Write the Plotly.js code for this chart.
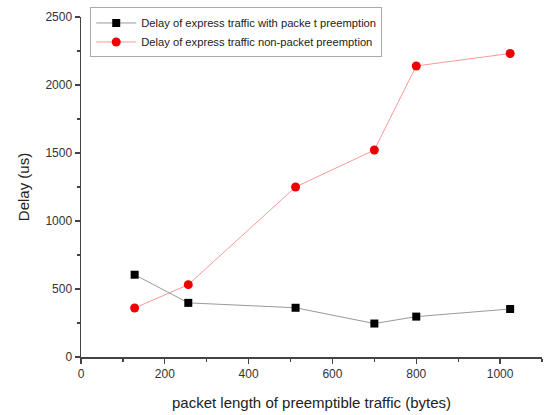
<!DOCTYPE html>
<html>
<head>
<meta charset="utf-8">
<script src="https://cdn.plot.ly/plotly-3.0.1.min.js"></script>
<style>html,body{margin:0;padding:0;background:#fff;}#chart{width:550px;height:415px;}</style>
</head>
<body>
<div id="chart"></div>
<script>
const packetLength = [128, 256, 512, 700, 800, 1024];
const delayWithPreemption = [605, 398, 362, 246, 297, 353];
const delayNonPreemption = [360, 532, 1250, 1522, 2140, 2232];
const seriesNames = ["Delay of express traffic with packe t preemption", "Delay of express traffic non-packet preemption"];

const traces = [
  {x: packetLength, y: delayWithPreemption, name: seriesNames[0], mode: 'lines+markers', type: 'scatter',
   line: {color: '#9a9a9a', width: 1}, marker: {symbol: 'square', color: '#000', size: 8}},
  {x: packetLength, y: delayNonPreemption, name: seriesNames[1], mode: 'lines+markers', type: 'scatter',
   line: {color: '#f59a9a', width: 1}, marker: {symbol: 'circle', color: '#ee0000', size: 9}}
];

const axisCommon = {
  showgrid: false, zeroline: false, showline: true, linecolor: '#444', linewidth: 1.5,
  ticks: 'outside', ticklen: 5, tickcolor: '#444', tickwidth: 1.2,
  tickfont: {family: 'Liberation Sans, Arial, sans-serif', size: 12, color: '#333'}
};

const layout = {
  width: 550, height: 415,
  margin: {l: 81, r: 8, t: 16, b: 58},
  paper_bgcolor: '#fff', plot_bgcolor: '#fff',
  showlegend: true,
  legend: {x: 0.02, y: 1.025, xanchor: 'left', yanchor: 'top', bgcolor: '#fff', bordercolor: '#aaa', borderwidth: 1,
           font: {family: 'Liberation Sans, Arial, sans-serif', size: 11.2, color: '#222'}, tracegroupgap: 0, itemwidth: 40},
  xaxis: Object.assign({}, axisCommon, {
    range: [0, 1100], dtick: 200, tick0: 0,
    minor: {dtick: 100, ticks: 'outside', ticklen: 3, tickcolor: '#444'},
    title: {text: 'packet length of preemptible traffic (bytes)', standoff: 17,
            font: {family: 'Liberation Sans, Arial, sans-serif', size: 15, color: '#222'}}
  }),
  yaxis: Object.assign({}, axisCommon, {
    range: [0, 2500], dtick: 500, tick0: 0,
    minor: {dtick: 250, ticks: 'outside', ticklen: 3, tickcolor: '#444'},
    title: {text: 'Delay (us)', standoff: 12,
            font: {family: 'Liberation Sans, Arial, sans-serif', size: 15, color: '#222'}}
  })
};

Plotly.newPlot('chart', traces, layout, {displayModeBar: false, staticPlot: true});
</script>
</body>
</html>
